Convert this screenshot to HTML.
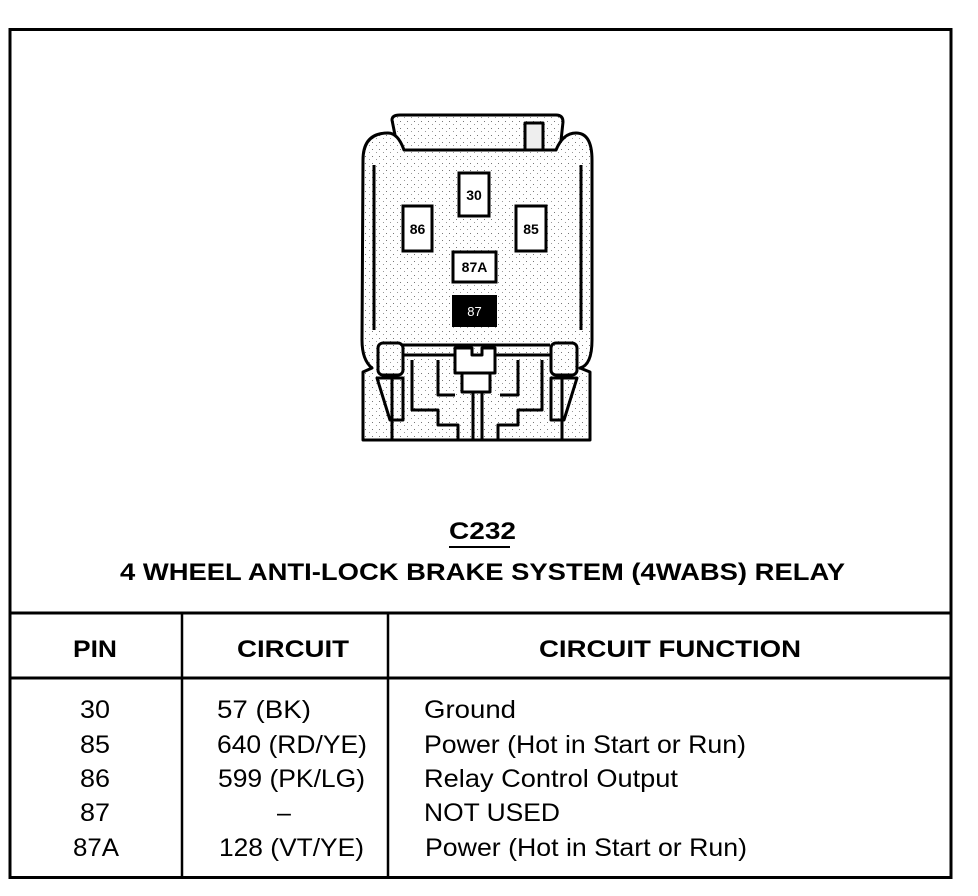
<!DOCTYPE html>
<html><head><style>
html,body{margin:0;padding:0;background:#fff;}
svg{display:block;}
text{font-family:"Liberation Sans",sans-serif;fill:#000;}
</style></head><body>
<svg width="978" height="896" viewBox="0 0 978 896" xmlns="http://www.w3.org/2000/svg">
<defs>
<pattern id="st" width="7" height="7" patternUnits="userSpaceOnUse">
<rect width="7" height="7" fill="#fff"/>
<rect x="1" y="2" width="1" height="1" fill="#777"/>
<rect x="5" y="5" width="1" height="1" fill="#999"/>
</pattern>
</defs>
<!-- frame -->
<rect x="10" y="29.5" width="941" height="848" fill="none" stroke="#000" stroke-width="3"/>
<line x1="10" y1="613" x2="951" y2="613" stroke="#000" stroke-width="3"/>
<line x1="10" y1="678" x2="951" y2="678" stroke="#000" stroke-width="3"/>
<line x1="182" y1="613" x2="182" y2="877" stroke="#000" stroke-width="2.5"/>
<line x1="388" y1="613" x2="388" y2="877" stroke="#000" stroke-width="2.5"/>

<!-- connector -->
<g stroke="#000" stroke-width="3" fill="url(#st)" stroke-linejoin="round">
<path d="M398 150 L392 120 Q392 115 400 115 L556 115 Q563 115 563 122 L560 150 Z"/>
<rect x="525" y="123" width="18" height="28" fill="#eee"/>
<path d="M363 160 Q363 133 388 133 Q398 133 404 150 L556 150 Q563 133 576 133 Q592 133 592 160 L592 340 Q592 365 580 368 L590 372 L590 440 L363 440 L363 372 L372 368 Q362 360 362 340 Z"/>
<line x1="374" y1="165" x2="374" y2="330" />
<line x1="581" y1="165" x2="581" y2="330" />
<path d="M380 345 L550 345" fill="none"/>
<line x1="380" y1="355" x2="577" y2="355"/>
<rect x="378" y="343" width="25" height="32" rx="5"/>
<rect x="551" y="343" width="26" height="32" rx="5"/>
<path d="M377 378 L403 378 L403 420 L390 420 Z" fill="none"/>
<path d="M577 378 L551 378 L551 420 L564 420 Z" fill="none"/>
<path d="M412 360 L412 410 L438 410 L438 425 L458 425 L458 440" fill="none"/>
<path d="M542 360 L542 410 L518 410 L518 425 L498 425 L498 440" fill="none"/>
<path d="M438 360 L438 395 L455 395" fill="none"/>
<path d="M518 360 L518 395 L500 395" fill="none"/>
<path d="M455 348 L472 348 L472 355 L482 355 L482 348 L495 348 L495 373 L455 373 Z" fill="#fff"/>
<rect x="462" y="373" width="28" height="19" fill="#fff"/>
<line x1="473" y1="392" x2="473" y2="440"/>
<line x1="482" y1="392" x2="482" y2="440"/>
<line x1="392" y1="375" x2="392" y2="440"/>
<line x1="562" y1="375" x2="562" y2="440"/>
</g>
<g stroke="#000" stroke-width="3" fill="#fff">
<rect x="459" y="173" width="30" height="43"/>
<rect x="403" y="206" width="29" height="45"/>
<rect x="516" y="206" width="30" height="45"/>
<rect x="453" y="252" width="43" height="30"/>
</g>
<rect x="452" y="295" width="45" height="32" fill="#000"/>
<g font-weight="bold" font-size="14" text-anchor="middle">
<text x="474" y="200">30</text>
<text x="417.5" y="234">86</text>
<text x="531" y="234">85</text>
<text x="474.5" y="272">87A</text>
</g>
<text x="474.5" y="316" font-size="13" text-anchor="middle" style="fill:#fff">87</text>

<!-- titles -->
<text x="449" y="539" font-size="24" font-weight="bold" textLength="67" lengthAdjust="spacingAndGlyphs">C232</text>
<line x1="449" y1="547" x2="510" y2="547" stroke="#000" stroke-width="2"/>
<text x="120" y="580" font-size="24" font-weight="bold" textLength="725" lengthAdjust="spacingAndGlyphs">4 WHEEL ANTI-LOCK BRAKE SYSTEM (4WABS) RELAY</text>

<!-- headers -->
<g font-size="24" font-weight="bold">
<text x="73" y="657" textLength="44" lengthAdjust="spacingAndGlyphs">PIN</text>
<text x="237" y="657" textLength="112" lengthAdjust="spacingAndGlyphs">CIRCUIT</text>
<text x="539" y="657" textLength="262" lengthAdjust="spacingAndGlyphs">CIRCUIT FUNCTION</text>
</g>
<!-- rows -->
<g font-size="25">
<text x="95" y="718" text-anchor="middle" textLength="30" lengthAdjust="spacingAndGlyphs">30</text>
<text x="95" y="753" text-anchor="middle" textLength="30" lengthAdjust="spacingAndGlyphs">85</text>
<text x="95" y="787" text-anchor="middle" textLength="30" lengthAdjust="spacingAndGlyphs">86</text>
<text x="95" y="821" text-anchor="middle" textLength="30" lengthAdjust="spacingAndGlyphs">87</text>
<text x="96" y="856" text-anchor="middle" textLength="46" lengthAdjust="spacingAndGlyphs">87A</text>
<text x="217" y="718" textLength="94" lengthAdjust="spacingAndGlyphs">57 (BK)</text>
<text x="217" y="753" textLength="150" lengthAdjust="spacingAndGlyphs">640 (RD/YE)</text>
<text x="218" y="787" textLength="147" lengthAdjust="spacingAndGlyphs">599 (PK/LG)</text>
<text x="284" y="821" text-anchor="middle">–</text>
<text x="219" y="856" textLength="145" lengthAdjust="spacingAndGlyphs">128 (VT/YE)</text>
<text x="424" y="718" textLength="92" lengthAdjust="spacingAndGlyphs">Ground</text>
<text x="424" y="753" textLength="322" lengthAdjust="spacingAndGlyphs">Power (Hot in Start or Run)</text>
<text x="424" y="787" textLength="254" lengthAdjust="spacingAndGlyphs">Relay Control Output</text>
<text x="424" y="821" textLength="136" lengthAdjust="spacingAndGlyphs">NOT USED</text>
<text x="425" y="856" textLength="322" lengthAdjust="spacingAndGlyphs">Power (Hot in Start or Run)</text>
</g>
</svg>
</body></html>
